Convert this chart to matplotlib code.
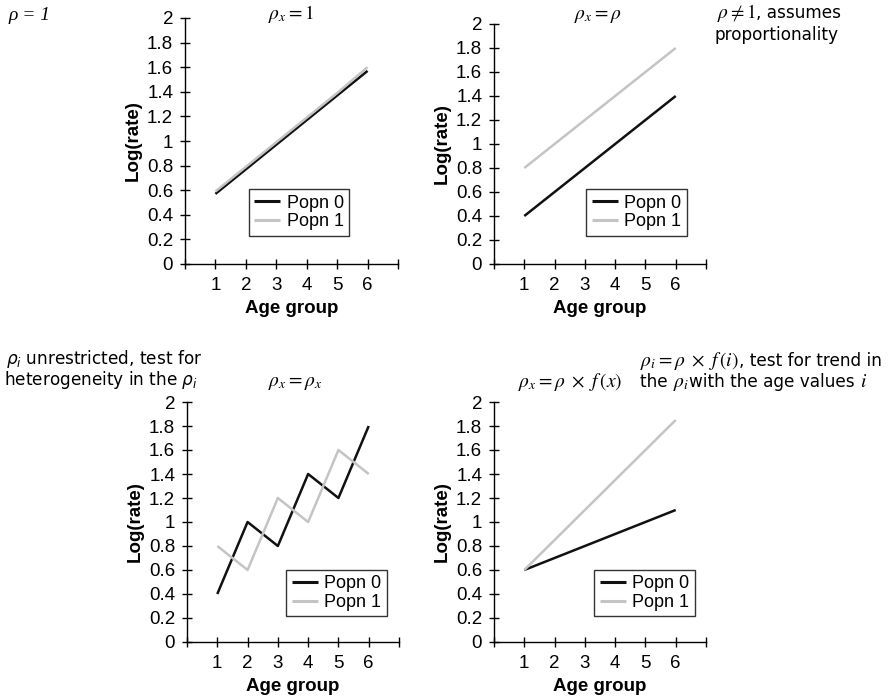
import matplotlib
matplotlib.use("Agg")
import matplotlib.pyplot as plt

plt.rcParams['font.family'] = ['Liberation Sans', 'DejaVu Sans']

W, H = 896, 698

age_groups = [1, 2, 3, 4, 5, 6]
x_tick_labels = ['1', '2', '3', '4', '5', '6']
y_ticks = [0, 0.2, 0.4, 0.6, 0.8, 1.0, 1.2, 1.4, 1.6, 1.8, 2.0]
y_tick_labels = ['0', '0.2', '0.4', '0.6', '0.8', '1', '1.2', '1.4', '1.6', '1.8', '2']
series_names = ['Popn 0', 'Popn 1']

# Panel A: rho_x = 1
a_popn0 = [0.57, 0.77, 0.97, 1.17, 1.37, 1.57]
a_popn1 = [0.59, 0.79, 0.99, 1.19, 1.39, 1.60]
# Panel B: rho_x = rho
b_popn0 = [0.4, 0.6, 0.8, 1.0, 1.2, 1.4]
b_popn1 = [0.8, 1.0, 1.2, 1.4, 1.6, 1.8]
# Panel C: rho_x unrestricted
c_popn0 = [0.4, 1.0, 0.8, 1.4, 1.2, 1.8]
c_popn1 = [0.8, 0.6, 1.2, 1.0, 1.6, 1.4]
# Panel D: rho_x = rho * f(x)
d_popn0 = [0.6, 0.7, 0.8, 0.9, 1.0, 1.1]
d_popn1 = [0.6, 0.85, 1.1, 1.35, 1.6, 1.85]

BLACK = '#111111'
GREY = '#c4c4c4'

fig = plt.figure(figsize=(W / 100, H / 100), dpi=100)


def px_axes(left, top, right, bottom):
    return fig.add_axes([left / W, 1 - bottom / H, (right - left) / W, (bottom - top) / H])


def panel(box, y0, y1, legend_box):
    ax = px_axes(*box)
    ax.plot(age_groups, y0, color=BLACK, lw=1.8, label=series_names[0], solid_capstyle='butt')
    ax.plot(age_groups, y1, color=GREY, lw=1.8, label=series_names[1], solid_capstyle='butt')
    ax.set_xlim(0, 7)
    ax.set_ylim(0, 2)
    ax.set_xticks(range(0, 8))
    ax.set_xticklabels([''] + x_tick_labels + [''])
    ax.set_yticks(y_ticks)
    ax.set_yticklabels(y_tick_labels)
    for s in ('top', 'right'):
        ax.spines[s].set_visible(False)
    for s in ('left', 'bottom'):
        ax.spines[s].set_linewidth(1.0)
        ax.spines[s].set_color('black')
    ax.tick_params(direction='inout', length=7, width=1.0, labelsize=13.5, colors='black', pad=5)
    ax.tick_params(axis='x', pad=6)
    ax.set_xlabel('Age group', fontsize=13.5, fontweight='bold', labelpad=4)
    ax.set_ylabel('Log(rate)', fontsize=13.5, fontweight='bold', labelpad=4)
    ax.patch.set_alpha(0)
    l, t, r, b = legend_box
    leg = ax.legend(loc='center',
                    bbox_to_anchor=((l + r) / 2 / W, 1 - (t + b) / 2 / H),
                    bbox_transform=fig.transFigure,
                    fontsize=13, frameon=True, fancybox=False, borderpad=0.3,
                    handlelength=1.45, handletextpad=0.35, labelspacing=0.1,
                    borderaxespad=0)
    leg.get_frame().set_edgecolor('black')
    leg.get_frame().set_linewidth(1.0)
    for line in leg.get_lines():
        line.set_linewidth(2.2)
    return ax


panel((185, 18, 398, 264), a_popn0, a_popn1, (247, 188, 351, 237))
panel((494, 24, 706, 264), b_popn0, b_popn1, (584, 188, 689, 237))
panel((187, 402, 399, 642), c_popn0, c_popn1, (285, 569, 388, 617))
panel((494, 402, 706, 642), d_popn0, d_popn1, (596, 569, 693, 617))

renderer = fig.canvas.get_renderer()

SERIF = dict(math_fontfamily='stix', fontsize=14)
SANS = dict(family='DejaVu Sans', math_fontfamily='dejavusans', fontsize=12.2)


def ftext(x, y, s, **kw):
    kw.setdefault('va', 'baseline')
    return fig.text(x / W, 1 - y / H, s, **kw)


def run(x, y, parts, align='left'):
    """Lay out a sequence of (string, style) pieces on one baseline."""
    items = [ftext(x, y, s, ha='left', **st) for s, st in parts]
    widths = [it.get_window_extent(renderer).width for it in items]
    total = sum(widths)
    if align == 'center':
        x = x - total / 2
    elif align == 'right':
        x = x - total
    for it, w in zip(items, widths):
        it.set_x(x / W)
        x += w
    return items


# panel titles
ftext(8, 20, 'ρ = 1', ha='left', family='Liberation Serif', style='italic', fontsize=14)
ftext(291, 19, r'$\rho_x = 1$', ha='center', **SERIF)
ftext(598, 19, r'$\rho_x = \rho$', ha='center', **SERIF)
ftext(295, 386, r'$\rho_x = \rho_x$', ha='center', **SERIF)
ftext(518, 387, r'$\rho_x = \rho\ \times\ f\,(x)$', ha='left', **SERIF)

# model notes
run(779, 18, [(r'$\rho \neq 1$', SERIF), (', assumes', SANS)], align='center')
ftext(776, 40, 'proportionality', ha='center', **SANS)

ftext(6, 364, r'$\rho_i$ unrestricted, test for', ha='left', **SANS)
ftext(4, 385, r'heterogeneity in the $\rho_i$', ha='left', **SANS)

run(640, 366, [(r'$\rho_i = \rho\ \times\ f\,(i)$', SERIF), (', test for trend in', SANS)])
run(640, 387, [('the ', SANS), (r'$\rho_i$', SERIF),
               ('with the age values ', SANS), (r'$i$', SERIF)])

fig.savefig('out.png', dpi=100, facecolor='white')
